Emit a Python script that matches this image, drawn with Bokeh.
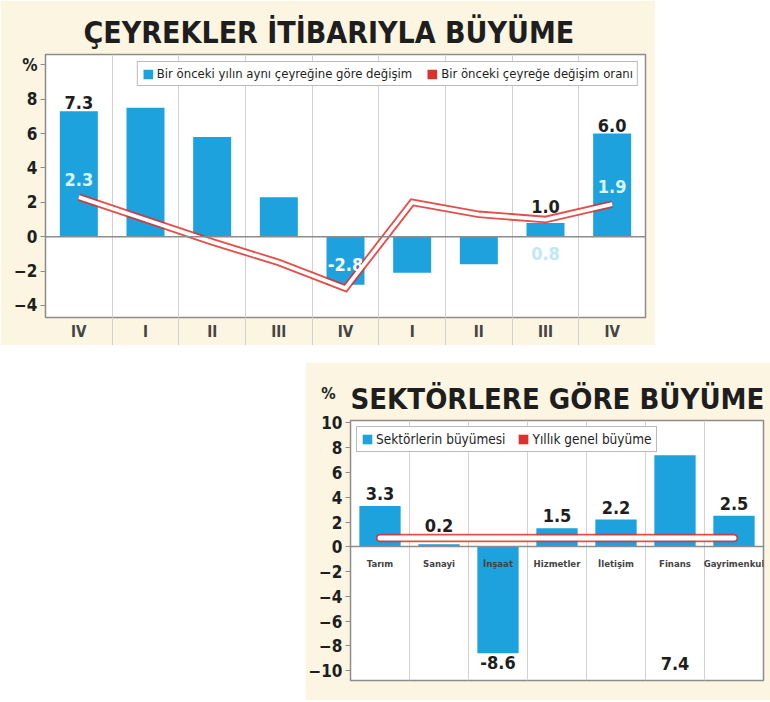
from bokeh.plotting import figure
from bokeh.models import (Range1d, FixedTicker, Span, Legend, LegendItem, Label,
                          ColumnDataSource, Spacer)
from bokeh.layouts import column, row
from bokeh.embed import file_html
from bokeh.resources import INLINE
from bokeh.core.properties import value

# ---------------- data ----------------
quarters = ["IV", "I", "II", "III", "IV", "I", "II", "III", "IV"]
yoy_growth = [7.3, 7.5, 5.8, 2.3, -2.8, -2.1, -1.6, 0.8, 6.0]
qoq_growth = [2.3, 1.0, -0.3, -1.5, -3.0, 2.0, 1.3, 1.0, 1.9]
yoy_labels = ["7.3", "", "", "", "-2.8", "", "", "0.8", "6.0"]
qoq_labels = ["2.3", "", "", "", "", "", "", "1.0", "1.9"]
top_ticks = [-4, -2, 0, 2, 4, 6, 8]

sectors = ["Tarım", "Sanayi", "İnşaat", "Hizmetler", "İletişim", "Finans", "Gayrimenkul"]
sector_growth = [3.3, 0.2, -8.6, 1.5, 2.2, 7.4, 2.5]
annual_growth = 0.7
bottom_ticks = [-10, -8, -6, -4, -2, 0, 2, 4, 6, 8, 10]

top_title = "ÇEYREKLER İTİBARIYLA BÜYÜME"
bottom_title = "SEKTÖRLERE GÖRE BÜYÜME"
top_legend = ["Bir önceki yılın aynı çeyreğine göre değişim", "Bir önceki çeyreğe değişim oranı"]
bottom_legend = ["Sektörlerin büyümesi", "Yıllık genel büyüme"]
unit = "%"

# ---------------- style ----------------
FONT = "DejaVu Sans Condensed"
BLUE = "#1ea2dd"
RED = "#e0302c"
CREAM = "#fbf5e1"
GRID = "#d2d2d2"
FRAME = "#8c8c8c"
INK = "#1e1e1e"


def style_common(p):
    p.background_fill_color = "white"
    p.border_fill_color = CREAM
    p.outline_line_color = FRAME
    p.outline_line_width = 1.5
    p.ygrid.grid_line_color = None
    p.xgrid.grid_line_color = GRID
    p.xgrid.grid_line_width = 1
    p.yaxis.axis_line_color = None
    p.yaxis.major_tick_line_color = FRAME
    p.yaxis.major_tick_out = 5
    p.yaxis.major_tick_in = 0
    p.yaxis.minor_tick_line_color = None
    p.yaxis.major_label_text_font = FONT
    p.yaxis.major_label_text_font_style = "bold"
    p.yaxis.major_label_text_font_size = "17px"
    p.yaxis.major_label_text_color = INK
    p.yaxis.major_label_standoff = 3
    p.title.text_font = FONT
    p.title.text_font_style = "bold"
    p.title.text_color = INK
    p.title.text_font_size = "30px"


def subset(idx, xv, yv, tv):
    return ColumnDataSource(dict(x=[xv[i] for i in idx], y=[yv[i] for i in idx],
                                 t=[tv[i] for i in idx]))


txt = dict(text_font=value(FONT), text_font_style="bold", text_font_size="18px",
           text_align="center")

# ================= TOP CHART =================
n = len(quarters)
xs = list(range(n))
top = figure(width=655, height=345, output_backend="svg", toolbar_location=None,
             x_range=Range1d(-0.5, n - 0.5), y_range=Range1d(-4.7, 10.6),
             min_border_left=45, min_border_right=10, min_border_top=54, min_border_bottom=28,
             title=top_title)
style_common(top)
top.title.align = "left"
top.title.offset = 38

# "%" shown as the label of the tick just above the highest value tick
pct_tick = top_ticks[-1] + 2
top.yaxis.ticker = FixedTicker(ticks=top_ticks + [pct_tick])
top.yaxis.major_label_overrides = {pct_tick: unit}
top.xaxis.ticker = FixedTicker(ticks=xs, minor_ticks=[i - 0.5 for i in range(1, n)])
top.xaxis.major_label_overrides = {i: q for i, q in enumerate(quarters)}
top.xaxis.axis_line_color = None
top.xaxis.major_tick_line_color = None
top.xaxis.minor_tick_line_color = GRID
top.xaxis.minor_tick_out = 28
top.xaxis.minor_tick_in = 0
top.xaxis.major_label_text_font = FONT
top.xaxis.major_label_text_font_style = "bold"
top.xaxis.major_label_text_font_size = "15px"
top.xaxis.major_label_standoff = -23
top.xgrid.ticker = FixedTicker(ticks=[i - 0.5 for i in range(1, n)])

bars = top.vbar(x=xs, top=yoy_growth, width=0.57, fill_color=BLUE, line_color=None)
top.add_layout(Span(location=0, dimension="width", line_color=FRAME, line_width=1.5))
top.line(xs, qoq_growth, line_color=RED, line_width=7.5, line_join="miter", line_alpha=0.85)
top.line(xs, qoq_growth, line_color="white", line_width=3.8, line_join="miter")
red_proxy = top.vbar(x=xs, top=qoq_growth, width=0.5, fill_color=RED, line_color=None,
                     visible=False)

lab = [i for i, t in enumerate(yoy_labels) if t]
above = [i for i in lab if yoy_growth[i] >= 2]
inside_neg = [i for i in lab if yoy_growth[i] < 0]
small_pos = [i for i in lab if 0 <= yoy_growth[i] < 2]
top.text("x", "y", "t", source=subset(above, xs, yoy_growth, yoy_labels),
         text_baseline="bottom", y_offset=-2, text_color=INK, **txt)
top.text("x", "y", "t", source=subset(inside_neg, xs, yoy_growth, yoy_labels),
         text_baseline="bottom", y_offset=-14, text_color="white", **txt)
top.text("x", "y", "t", source=subset(small_pos, xs, [0] * n, yoy_labels),
         text_baseline="top", y_offset=10, text_color="#bfe8f7", **txt)

lab2 = [i for i, t in enumerate(qoq_labels) if t]
in_bar = [i for i in lab2 if yoy_growth[i] > qoq_growth[i] + 1.5]
out_bar = [i for i in lab2 if i not in in_bar]
top.text("x", "y", "t", source=subset(in_bar, xs, qoq_growth, qoq_labels),
         text_baseline="bottom", y_offset=-11, text_color="#d9f7ff", **txt)
top.text("x", "y", "t", source=subset(out_bar, xs, qoq_growth, qoq_labels),
         text_baseline="bottom", y_offset=-7, text_color=INK, **txt)

leg = Legend(items=[LegendItem(label=top_legend[0], renderers=[bars]),
                    LegendItem(label=top_legend[1], renderers=[red_proxy])],
             location="top_right", orientation="horizontal", margin=7, padding=4,
             spacing=14, glyph_width=12, glyph_height=12, label_standoff=3,
             label_text_font=FONT, label_text_font_size="13px",
             label_text_color=INK, label_height=12, inactive_fill_alpha=0,
             border_line_color="#777777", border_line_width=1.2,
             background_fill_color="white", background_fill_alpha=1)
top.add_layout(leg)

# ================= BOTTOM CHART =================
m = len(sectors)
sx = list(range(m))
bot = figure(width=465, height=338, output_backend="svg", toolbar_location=None,
             x_range=Range1d(-0.5, m - 0.5), y_range=Range1d(-10.8, 10.2),
             min_border_left=38, min_border_right=7, min_border_top=58, min_border_bottom=20,
             title=bottom_title)
style_common(bot)
bot.title.align = "left"
bot.title.offset = 0
bot.title.text_font_size = "29px"

bot.yaxis.ticker = FixedTicker(ticks=bottom_ticks)
bot.xaxis.ticker = FixedTicker(ticks=sx)
bot.xaxis.fixed_location = 0
bot.xaxis.major_label_overrides = {i: s for i, s in enumerate(sectors)}
bot.xaxis.axis_line_color = FRAME
bot.xaxis.axis_line_width = 1.5
bot.xaxis.major_tick_line_color = None
bot.xaxis.minor_tick_line_color = None
bot.xaxis.major_label_text_font = FONT
bot.xaxis.major_label_text_font_style = "bold"
bot.xaxis.major_label_text_font_size = "9.5px"
bot.xaxis.major_label_standoff = 5
bot.xgrid.ticker = FixedTicker(ticks=[i - 0.5 for i in range(1, m)])

sbars = bot.vbar(x=sx, top=sector_growth, width=0.7, fill_color=BLUE, line_color=None)
annual = [annual_growth] * m
bot.line(sx, annual, line_color=RED, line_width=8.5, line_cap="round", line_alpha=0.85)
bot.line(sx, annual, line_color="white", line_width=5, line_cap="round")
red_proxy2 = bot.vbar(x=sx, top=annual, width=0.5, fill_color=RED, line_color=None,
                      visible=False)

slabels = ["%.1f" % v for v in sector_growth]
pos = [i for i in sx if 0 <= sector_growth[i] < 5]
neg = [i for i in sx if sector_growth[i] < 0]
tall = [i for i in sx if sector_growth[i] >= 5]
label_y = [max(v, annual_growth) for v in sector_growth]
bot.text("x", "y", "t", source=subset(pos, sx, label_y, slabels),
         text_baseline="bottom", y_offset=-6, text_color=INK, **txt)
bot.text("x", "y", "t", source=subset(neg, sx, sector_growth, slabels),
         text_baseline="top", y_offset=3, text_color=INK, **txt)
bot.text("x", "y", "t", source=subset(tall, sx, [bot.y_range.start] * m, slabels),
         text_baseline="bottom", y_offset=-11, text_color=INK, **txt)

# "%" lives in the (otherwise empty) lower side panel and is drawn beside the title
bot.add_layout(Label(x=-22, y=306, x_units="screen", y_units="screen", text=unit,
                     text_baseline="middle", text_align="center",
                     text_font=FONT, text_font_style="bold",
                     text_font_size="16px", text_color=INK), "below")

leg2 = Legend(items=[LegendItem(label=bottom_legend[0], renderers=[sbars]),
                     LegendItem(label=bottom_legend[1], renderers=[red_proxy2])],
              location="top_left", orientation="horizontal", margin=6, padding=4,
              spacing=12, glyph_width=12, glyph_height=12, label_standoff=3,
              label_text_font=FONT, label_text_font_size="13.5px",
              label_text_color=INK, label_height=12, inactive_fill_alpha=0,
              border_line_color="#777777", border_line_width=1.2,
              background_fill_color="white", background_fill_alpha=1)
bot.add_layout(leg2)

layout = column(top, row(Spacer(width=305, height=338), bot), spacing=17)

open("out.html", "w").write(file_html(layout, INLINE))
